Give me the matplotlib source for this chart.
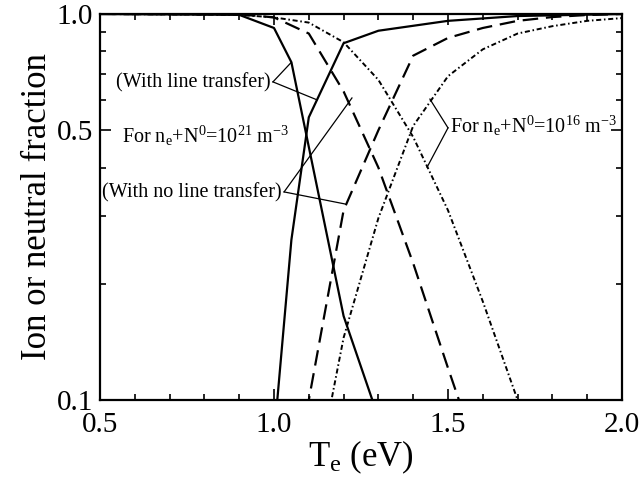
import numpy as np
import matplotlib
matplotlib.use("Agg")
import matplotlib.pyplot as plt
from matplotlib.ticker import FixedLocator, NullFormatter

plt.rcParams['font.family'] = ['Liberation Serif', 'DejaVu Serif']
plt.rcParams['mathtext.fontset'] = 'custom'
plt.rcParams['mathtext.rm'] = 'Liberation Serif'
plt.rcParams['mathtext.it'] = 'Liberation Serif:italic'

# n_e+N0 = 1e21, with line transfer (solid)
te_lt_neu = [0.5, 0.9, 1.0, 1.05, 1.2, 1.3]
frac_lt_neu = [1.0, 0.995, 0.92, 0.75, 0.165, 0.09]
te_lt_ion = [1.0, 1.05, 1.1, 1.2, 1.3, 1.5, 1.7, 2.0]
frac_lt_ion = [0.08, 0.26, 0.54, 0.84, 0.905, 0.96, 0.988, 1.0]

# n_e+N0 = 1e21, no line transfer (dashed)
te_nlt_neu = [0.5, 0.9, 1.0, 1.1, 1.2, 1.3, 1.4, 1.5, 1.6]
frac_nlt_neu = [1.0, 0.998, 0.98, 0.89, 0.63, 0.40, 0.226, 0.121, 0.066]
te_nlt_ion = [1.05, 1.1, 1.2, 1.3, 1.4, 1.5, 1.6, 1.7, 1.8, 1.9, 2.0]
frac_nlt_ion = [0.06, 0.10, 0.31, 0.50, 0.78, 0.867, 0.92, 0.96, 0.982, 0.994, 1.0]

# n_e+N0 = 1e16 (dash-dot)
te_16_neu = [0.5, 0.9, 1.0, 1.1, 1.2, 1.3, 1.4, 1.5, 1.6, 1.7, 1.75]
frac_16_neu = [1.0, 0.995, 0.98, 0.95, 0.845, 0.675, 0.48, 0.31, 0.18, 0.10, 0.075]
te_16_ion = [1.1, 1.2, 1.3, 1.4, 1.5, 1.6, 1.7, 1.8, 1.9, 2.0]
frac_16_ion = [0.05, 0.145, 0.296, 0.513, 0.69, 0.81, 0.89, 0.93, 0.96, 0.976]

x_ticks = [0.5, 1.0, 1.5, 2.0]
x_ticklabels = ['0.5', '1.0', '1.5', '2.0']
y_ticks = [0.1, 0.5, 1.0]
y_ticklabels = ['0.1', '0.5', '1.0']

fig = plt.figure(figsize=(6.42, 4.79), dpi=100)
ax = fig.add_axes([100/642, 1-400/479, 522/642, 386/479])
ax.set_yscale('log')

lw = 1.6
ax.plot(te_lt_neu, frac_lt_neu, 'k-', lw=lw)
ax.plot(te_lt_ion, frac_lt_ion, 'k-', lw=lw)
ax.plot(te_nlt_neu, frac_nlt_neu, 'k', lw=lw, dashes=(7, 3.5))
ax.plot(te_nlt_ion, frac_nlt_ion, 'k', lw=lw, dashes=(7, 3.5))
ax.plot(te_16_neu, frac_16_neu, 'k', lw=1.4, dashes=(2.6, 1.4, 0.8, 1.4))
ax.plot(te_16_ion, frac_16_ion, 'k', lw=1.4, dashes=(2.6, 1.4, 0.8, 1.4))

ax.set_xlim(0.5, 2.0)
ax.set_ylim(0.1, 1.0)
ax.set_xticks(x_ticks)
ax.set_xticklabels(x_ticklabels)
ax.xaxis.set_minor_locator(FixedLocator(np.arange(0.6, 2.0, 0.1)))
ax.set_yticks(y_ticks)
ax.set_yticklabels(y_ticklabels)
ax.yaxis.set_minor_locator(FixedLocator([0.2, 0.3, 0.4, 0.6, 0.7, 0.8, 0.9]))
ax.yaxis.set_minor_formatter(NullFormatter())
ax.tick_params(which='both', direction='in', top=True, right=True, labelsize=21, width=1.2)
ax.tick_params(which='major', length=8)
ax.tick_params(which='minor', length=4)
ax.tick_params(axis='x', pad=9)
ax.tick_params(axis='y', pad=5)
for s in ax.spines.values():
    s.set_linewidth(1.6)

ax.set_xlabel(r'T$_\mathrm{e}$ (eV)', fontsize=25, labelpad=0)
ax.set_ylabel('Ion or neutral fraction', fontsize=25, labelpad=2)

fs = 14.5
tl = dict(color='k', lw=0.9)
# with line transfer
ax.text(0.99, 0.647, '(With line transfer)', ha='right', va='baseline', fontsize=fs)
ax.plot([0.997, 1.05], [0.667, 0.75], **tl)
ax.plot([0.997, 1.124], [0.667, 0.599], **tl)
# n = 1e21 label
ax.text(0.563, 0.463, r'For n$_\mathrm{e}$+N$^\mathrm{0}$=10$^\mathrm{21}$ m$^\mathrm{-3}$',
        ha='left', va='baseline', fontsize=fs)
# with no line transfer
ax.text(1.022, 0.335, '(With no line transfer)', ha='right', va='baseline', fontsize=fs)
ax.plot([1.029, 1.224], [0.346, 0.606], **tl)
ax.plot([1.029, 1.204], [0.346, 0.322], **tl)
# n = 1e16 label
ax.text(1.505, 0.492, r'For n$_\mathrm{e}$+N$^\mathrm{0}$=10$^\mathrm{16}$ m$^\mathrm{-3}$',
        ha='left', va='baseline', fontsize=fs, clip_on=False)
ax.plot([1.5, 1.448], [0.507, 0.602], **tl)
ax.plot([1.5, 1.44], [0.507, 0.401], **tl)

fig.savefig('out.png', dpi=100)
